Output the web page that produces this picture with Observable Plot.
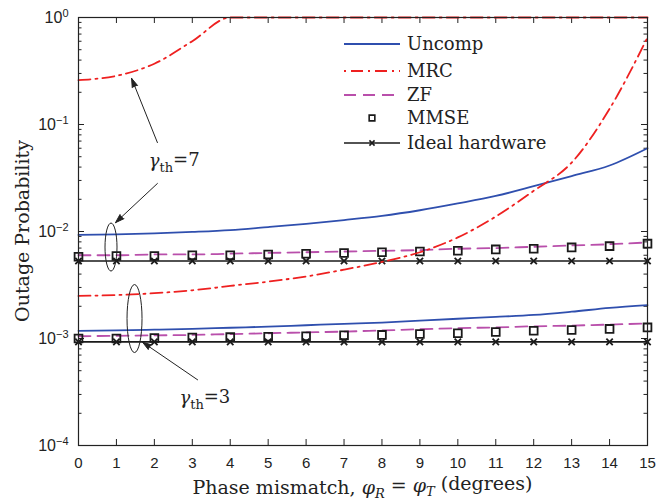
<!DOCTYPE html>
<html><head><meta charset="utf-8">
<script src="https://cdn.jsdelivr.net/npm/d3@7"></script>
<script src="https://cdn.jsdelivr.net/npm/@observablehq/plot@0.6"></script>
<style>
body{margin:0;background:#fff;}
#chart{position:relative;width:672px;height:501px;}
</style></head><body><div id="chart"></div>
<script>
// ---------- data ----------
const phase = [0,1,2,3,4,5,6,7,8,9,10,11,12,13,14,15];
// gamma_th = 7
const uncomp7 = [0.0093,0.0094,0.0096,0.0099,0.0103,0.0110,0.0118,0.0128,0.0140,0.0158,0.0183,0.0215,0.0265,0.0330,0.0414,0.0600];
const mrc7    = [0.26,0.285,0.37,0.60,1.0,1.0,1.0,1.0,1.0,1.0,1.0,1.0,1.0,1.0,1.0,1.0];
const zf7     = [0.0060,0.0060,0.0061,0.0061,0.0062,0.0063,0.0064,0.0065,0.0066,0.0067,0.0069,0.0070,0.0072,0.0074,0.0076,0.0079];
const mmse7   = [0.0058,0.0059,0.0059,0.0060,0.0060,0.0061,0.0062,0.0063,0.0064,0.0065,0.0066,0.0068,0.0069,0.0071,0.0073,0.0077];
const ideal7  = [0.0053,0.0053,0.0053,0.0053,0.0053,0.0053,0.0053,0.0053,0.0053,0.0053,0.0053,0.0053,0.0053,0.0053,0.0053,0.0053];
// gamma_th = 3
const uncomp3 = [0.00118,0.00119,0.00121,0.00123,0.00126,0.00129,0.00133,0.00137,0.00141,0.00147,0.00153,0.00159,0.00166,0.00178,0.00193,0.00205];
const mrc3    = [0.00250,0.00255,0.00265,0.00282,0.0031,0.0034,0.0038,0.0044,0.0052,0.0064,0.0088,0.0138,0.0240,0.044,0.14,0.65];
const zf3     = [0.00105,0.00106,0.00107,0.00108,0.00110,0.00112,0.00114,0.00116,0.00119,0.00122,0.00125,0.00127,0.00130,0.00132,0.00135,0.00138];
const mmse3   = [0.00100,0.00100,0.00101,0.00102,0.00103,0.00104,0.00105,0.00107,0.00108,0.00110,0.00112,0.00115,0.00118,0.00120,0.00123,0.00127];
const ideal3  = [0.00093,0.00093,0.00093,0.00093,0.00093,0.00093,0.00093,0.00093,0.00093,0.00093,0.00093,0.00093,0.00093,0.00093,0.00093,0.00093];

const xTicks = [0,1,2,3,4,5,6,7,8,9,10,11,12,13,14,15];
const yTicks = [1e-4,1e-3,1e-2,1e-1,1];
const yTickExp = ["-4","-3","-2","-1","0"];
const legendLabels = ["Uncomp","MRC","ZF","MMSE","Ideal hardware"];
const xLabel = ["Phase mismatch, ", "φ", "R", " = ", "φ", "T", " (degrees)"];
const yLabel = "Outage Probability";

// annotations (data coordinates)
const arrows = [
  {x1:2.08, y1:0.0678, x2:1.40, y2:0.27},
  {x1:2.08, y1:0.0281, x2:0.975, y2:0.0121},
  {x1:3.14, y1:0.000411, x2:1.69, y2:0.000923}
];
const gammaLabels = [{x:1.85, y:0.045, th:"7"}, {x:2.66, y:0.000275, th:"3"}];
const ellipseCenters = [{x:0.87, y:0.00708}, {x:1.49, y:0.00152}];

// ---------- build ----------
const series = (name, vals) => phase.map((p,i)=>({x:p, y:vals[i], s:name}));
const W=672, H=501, ml=78, mr=25, mt=17, mb=56;
const iw=W-ml-mr, ih=H-mt-mb;
const minor = [];
for (let e=-4; e<0; e++) for (let m=2; m<10; m++) minor.push(m*Math.pow(10,e));

const BLUE="#2f4fae", RED="#ee2020", MAG="#b94fab", BLK="#1a1a1a";
const serif = "'DejaVu Serif','Liberation Serif',serif";
const curve = "monotone-x";

const chart = Plot.plot({
  width:W, height:H, marginLeft:ml, marginRight:mr, marginTop:mt, marginBottom:mb,
  style:{fontFamily:"'Liberation Sans',Arial,sans-serif", fontSize:"15px", color:"#222", background:"white"},
  x:{domain:[0,15]},
  y:{type:"log", domain:[1e-4,1]},
  marks:[
    Plot.axisX(xTicks,{tickSize:0, tickPadding:12, tickFormat:d=>String(d), label:null}),
    Plot.axisY(yTicks,{tickSize:0, tickPadding:10, tickFormat:d=>"10", label:null, fontSize:16}),
    // inward ticks
    Plot.tickY(yTicks,{y:d=>d, insetRight:iw-6, stroke:"#222"}),
    Plot.tickY(yTicks,{y:d=>d, insetLeft:iw-6, stroke:"#222"}),
    Plot.tickY(minor,{y:d=>d, insetRight:iw-3.5, stroke:"#222"}),
    Plot.tickY(minor,{y:d=>d, insetLeft:iw-3.5, stroke:"#222"}),
    Plot.tickX(xTicks,{x:d=>d, insetTop:ih-6, stroke:"#222"}),
    Plot.tickX(xTicks,{x:d=>d, insetBottom:ih-6, stroke:"#222"}),
    // ideal hardware
    Plot.line(series("ideal7",ideal7),{x:"x",y:"y",stroke:BLK,strokeWidth:1.6}),
    Plot.line(series("ideal3",ideal3),{x:"x",y:"y",stroke:BLK,strokeWidth:1.6}),
    Plot.dot(series("ideal7",ideal7),{x:"x",y:"y",symbol:"times",r:3,stroke:BLK,strokeWidth:1.8}),
    Plot.dot(series("ideal3",ideal3),{x:"x",y:"y",symbol:"times",r:3,stroke:BLK,strokeWidth:1.8}),
    // ZF
    Plot.line(series("zf7",zf7),{x:"x",y:"y",stroke:MAG,strokeWidth:1.8,strokeDasharray:"12,7",curve}),
    Plot.line(series("zf3",zf3),{x:"x",y:"y",stroke:MAG,strokeWidth:1.8,strokeDasharray:"12,7",curve}),
    // MMSE markers
    Plot.dot(series("mmse7",mmse7),{x:"x",y:"y",symbol:"square",r:4.4,stroke:BLK,strokeWidth:1.8,fill:"white",fillOpacity:0}),
    Plot.dot(series("mmse3",mmse3),{x:"x",y:"y",symbol:"square",r:4.4,stroke:BLK,strokeWidth:1.8,fill:"white",fillOpacity:0}),
    // Uncomp
    Plot.line(series("uncomp7",uncomp7),{x:"x",y:"y",stroke:BLUE,strokeWidth:1.8,curve}),
    Plot.line(series("uncomp3",uncomp3),{x:"x",y:"y",stroke:BLUE,strokeWidth:1.8,curve}),
    // MRC
    Plot.line(series("mrc7",mrc7),{x:"x",y:"y",stroke:RED,strokeWidth:1.8,strokeDasharray:"12,5,2,5",curve}),
    Plot.line(series("mrc3",mrc3),{x:"x",y:"y",stroke:RED,strokeWidth:1.8,strokeDasharray:"12,5,2,5",curve}),
    // annotations
    Plot.arrow(arrows,{x1:"x1",y1:"y1",x2:"x2",y2:"y2",stroke:"#222",fill:"#222",strokeWidth:1,headLength:14,headAngle:36}),
    Plot.text(gammaLabels,{x:"x",y:"y",text:d=>"γth="+d.th,textAnchor:"start",fontFamily:serif,fontSize:18,fill:"#222"}),
    Plot.frame({stroke:"#222", strokeWidth:1.2})
  ]
});
document.getElementById("chart").appendChild(chart);

// ---------- post-processing (superscripts, subscripts, ellipses, legend, labels) ----------
const svg = d3.select(chart);
const sx = v => chart.scale("x").apply(v);
const sy = v => chart.scale("y").apply(v);

// y tick superscripts
svg.selectAll('g[aria-label="y-axis tick label"] text').each(function(d,i){
  const t = d3.select(this);
  const exp = yTickExp[i];
  t.text("10");
  t.append("tspan").attr("dy","-0.55em").attr("font-size","11px").text(exp.replace("-","\u2212"));
});

// gamma labels
svg.selectAll('text').each(function(){
  const t = d3.select(this);
  const m = t.text().match(/^γth=(\d+)$/);
  if (!m) return;
  t.text("");
  t.append("tspan").attr("font-style","italic").text("γ");
  t.append("tspan").attr("dy","0.35em").attr("font-size","13px").text("th");
  t.append("tspan").attr("dy","-0.35em").text("="+m[1]);
});

// ellipses
const ellSizes = [[6,24],[7.5,34]];
ellipseCenters.forEach((c,i)=>{
  svg.append("ellipse").attr("cx",sx(c.x)).attr("cy",sy(c.y))
    .attr("rx",ellSizes[i][0]).attr("ry",ellSizes[i][1])
    .attr("fill","none").attr("stroke","#222").attr("stroke-width",1);
});

// axis labels
const xl = svg.append("text").attr("x", ml+iw/2).attr("y", 494).attr("text-anchor","middle")
  .attr("font-family",serif).attr("font-size","19px").attr("fill","#222");
xl.append("tspan").text(xLabel[0]);
xl.append("tspan").attr("font-style","italic").text(xLabel[1]);
xl.append("tspan").attr("dy","0.3em").attr("font-size","13px").attr("font-style","italic").text(xLabel[2]);
xl.append("tspan").attr("dy","-0.3em").text(xLabel[3]);
xl.append("tspan").attr("font-style","italic").text(xLabel[4]);
xl.append("tspan").attr("dy","0.3em").attr("font-size","13px").attr("font-style","italic").text(xLabel[5]);
xl.append("tspan").attr("dy","-0.3em").text(xLabel[6]);

svg.append("text").attr("transform",`translate(29,${mt+ih/2}) rotate(-90)`).attr("text-anchor","middle")
  .attr("font-family",serif).attr("font-size","19px").attr("fill","#222").text(yLabel);

// legend
const lg = svg.append("g").attr("font-family",serif).attr("font-size","18px").attr("fill","#222").attr("text-anchor","start");
const rowsY = [44,71,95,118,143];
const lx1=344, lx2=400, ltx=407;
const styles = [
  {stroke:BLUE, dash:null, w:1.8},
  {stroke:RED, dash:"2,5,12,5", w:1.8},
  {stroke:MAG, dash:"12,7", w:1.8},
  null,
  {stroke:BLK, dash:null, w:1.6}
];
legendLabels.forEach((lab,i)=>{
  const y = rowsY[i];
  const s = styles[i];
  if (s) {
    const ln = lg.append("line").attr("x1",lx1).attr("x2",lx2).attr("y1",y).attr("y2",y)
      .attr("stroke",s.stroke).attr("stroke-width",s.w);
    if (s.dash) ln.attr("stroke-dasharray",s.dash);
  }
  if (i===3) lg.append("path").attr("d",d3.symbol(d3.symbolSquare, Math.PI*3.2*3.2)()).attr("transform",`translate(${(lx1+lx2)/2},${y})`)
      .attr("fill","none").attr("stroke",BLK).attr("stroke-width",1.6);
  if (i===4) lg.append("path").attr("d",d3.symbol(d3.symbolTimes, Math.PI*6)()).attr("transform",`translate(${(lx1+lx2)/2},${y})`)
      .attr("fill","none").attr("stroke",BLK).attr("stroke-width",1.6);
  lg.append("text").attr("x",ltx).attr("y",y).attr("dy","0.32em").attr("text-anchor","start").text(lab);
});
</script></body></html>
